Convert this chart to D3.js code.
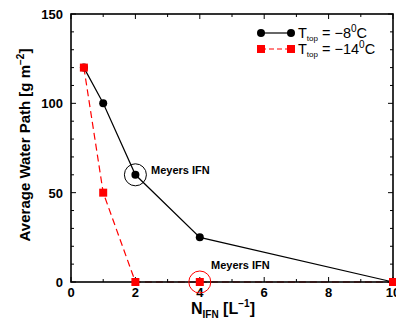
<!DOCTYPE html>
<html>
<head>
<meta charset="utf-8">
<script src="https://cdn.jsdelivr.net/npm/d3@7"></script>
<style>
  body { margin: 0; background: #fff; }
  text { font-family: "Liberation Sans", Arial, sans-serif; }
</style>
</head>
<body>
<div id="chart"></div>
<script>
// data
const nIfn = [0.4, 1, 2, 4, 10];
const awpMinus8 = [120, 100, 60, 25, 0];
const awpMinus14 = [120, 50, 0, 0, 0];
const xTicks = [0, 2, 4, 6, 8, 10];
const yTicks = [0, 50, 100, 150];
// Meyers IFN markers: [x, y] of the circled points
const meyers8 = [2, 60];
const meyers14 = [4, 0];

const width = 396, height = 322;
const margin = { top: 14, right: 2, bottom: 40, left: 71 };

const svg = d3.select('#chart')
  .append('svg')
  .attr('width', width)
  .attr('height', height);

const x = d3.scaleLinear()
  .domain([0, 10])
  .range([margin.left, width - margin.right - 1]);

const y = d3.scaleLinear()
  .domain([0, 150])
  .range([height - margin.bottom, margin.top]);

const line = d3.line().x(d => x(d[0])).y(d => y(d[1]));
const black = nIfn.map((v, i) => [v, awpMinus8[i]]);
const red = nIfn.map((v, i) => [v, awpMinus14[i]]);

svg.append('path')
  .attr('d', line(red))
  .style('fill', 'none')
  .style('stroke', 'red')
  .style('stroke-width', 1.2)
  .style('stroke-dasharray', '7,4');

svg.append('path')
  .attr('d', line(black))
  .style('fill', 'none')
  .style('stroke', 'black')
  .style('stroke-width', 1.2);

// frame drawn over the lines so the red dashes on y=0 stay hidden
svg.append('rect')
  .attr('x', x(0))
  .attr('y', y(150))
  .attr('width', x(10) - x(0))
  .attr('height', y(0) - y(150))
  .style('fill', 'none')
  .style('stroke', 'black')
  .style('stroke-width', 1.6);

// ticks inside, major + minor
const tickG = svg.append('g').style('stroke', 'black').style('stroke-width', 1);
d3.range(0, 11, 1).forEach(v => {
  const len = v % 2 === 0 ? 5 : 3;
  tickG.append('line').attr('x1', x(v)).attr('x2', x(v)).attr('y1', y(0)).attr('y2', y(0) - len);
  tickG.append('line').attr('x1', x(v)).attr('x2', x(v)).attr('y1', y(150)).attr('y2', y(150) + len);
});
d3.range(0, 151, 10).forEach(v => {
  const len = v % 50 === 0 ? 5 : 3;
  tickG.append('line').attr('y1', y(v)).attr('y2', y(v)).attr('x1', x(0)).attr('x2', x(0) + len);
  tickG.append('line').attr('y1', y(v)).attr('y2', y(v)).attr('x1', x(10)).attr('x2', x(10) - len);
});

// tick labels
svg.selectAll('.xl')
  .data(xTicks)
  .enter()
  .append('text')
  .attr('x', d => x(d))
  .attr('y', y(0) + 15)
  .attr('text-anchor', 'middle')
  .style('font-size', '13px')
  .style('font-weight', 'bold')
  .text(d => d);

svg.selectAll('.yl')
  .data(yTicks)
  .enter()
  .append('text')
  .attr('x', x(0) - 8)
  .attr('y', d => y(d) + 5)
  .attr('text-anchor', 'end')
  .style('font-size', '13px')
  .style('font-weight', 'bold')
  .text(d => d);

// axis titles
const xt = svg.append('text')
  .attr('x', 191)
  .attr('y', 314)
  .style('font-size', '16px')
  .style('font-weight', 'bold');
xt.append('tspan').text('N');
xt.append('tspan').attr('dy', 4).style('font-size', '10px').text('IFN');
xt.append('tspan').attr('dy', -4).text(' [L');
xt.append('tspan').attr('dy', -7).style('font-size', '10px').text('\u22121');
xt.append('tspan').attr('dy', 7).text(']');

const yt = svg.append('text')
  .attr('transform', 'translate(30,' + 145 + ') rotate(-90)')
  .attr('text-anchor', 'middle')
  .style('font-size', '15px')
  .style('font-weight', 'bold');
yt.append('tspan').text('Average Water Path [g m');
yt.append('tspan').attr('dy', -6).style('font-size', '10px').text('\u22122');
yt.append('tspan').attr('dy', 6).text(']');

svg.selectAll('.pb')
  .data(black)
  .enter()
  .append('circle')
  .attr('cx', d => x(d[0]))
  .attr('cy', d => y(d[1]))
  .attr('r', 4)
  .style('fill', 'black');

svg.selectAll('.pr')
  .data(red)
  .enter()
  .append('rect')
  .attr('x', d => x(d[0]) - 4)
  .attr('y', d => y(d[1]) - 4)
  .attr('width', 8)
  .attr('height', 8)
  .style('fill', 'red');

// Meyers IFN circles and labels
svg.append('circle')
  .attr('cx', x(meyers8[0]))
  .attr('cy', y(meyers8[1]))
  .attr('r', 11)
  .style('fill', 'none')
  .style('stroke', 'black');
svg.append('text')
  .attr('x', 151)
  .attr('y', 174)
  .style('font-size', '11px')
  .style('font-weight', 'bold')
  .text('Meyers IFN');

svg.append('circle')
  .attr('cx', x(meyers14[0]))
  .attr('cy', y(meyers14[1]))
  .attr('r', 11)
  .style('fill', 'none')
  .style('stroke', 'red');
svg.append('text')
  .attr('x', 211)
  .attr('y', 269)
  .style('font-size', '11px')
  .style('font-weight', 'bold')
  .text('Meyers IFN');

// legend
const legend = svg.append('g');
const items = [
  { color: 'black', dash: null, shape: 'circle', t: '\u22128', yy: 33 },
  { color: 'red', dash: '5,3', shape: 'square', t: '\u221214', yy: 49 }
];
items.forEach(it => {
  legend.append('line')
    .attr('x1', 261).attr('x2', 291)
    .attr('y1', it.yy).attr('y2', it.yy)
    .style('stroke', it.color)
    .style('stroke-width', 1.2)
    .style('stroke-dasharray', it.dash);
  [261, 291].forEach(px => {
    if (it.shape === 'circle') {
      legend.append('circle').attr('cx', px).attr('cy', it.yy).attr('r', 4).style('fill', it.color);
    } else {
      legend.append('rect').attr('x', px - 4).attr('y', it.yy - 4).attr('width', 8).attr('height', 8).style('fill', it.color);
    }
  });
  const t = legend.append('text')
    .attr('x', 298)
    .attr('y', it.yy + 5)
    .style('font-size', '14.5px');
  t.append('tspan').text('T');
  t.append('tspan').attr('dy', 3).style('font-size', '8px').text('top');
  t.append('tspan').attr('dy', -3).text(' = ' + it.t);
  t.append('tspan').attr('dy', -6).style('font-size', '10px').text('0');
  t.append('tspan').attr('dy', 6).text('C');
});
</script>
</body>
</html>
